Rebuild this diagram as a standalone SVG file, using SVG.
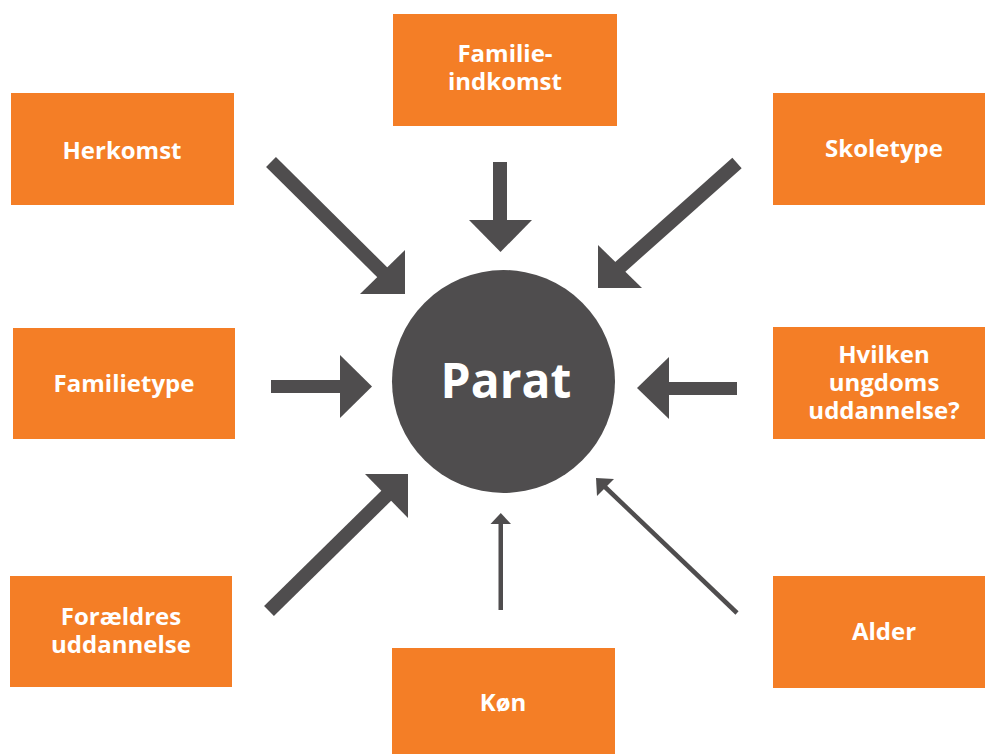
<svg xmlns="http://www.w3.org/2000/svg" width="985" height="754" viewBox="0 0 985 754">
<style>
.box{fill:#F47E26}
.lbl{fill:#ffffff;font-family:"Open Sans","Liberation Sans",sans-serif;font-weight:bold;font-size:24px;text-anchor:middle}
.arr{fill:#4F4D4E}
.shaft{stroke:#4F4D4E;fill:none}
</style>
<rect width="985" height="754" fill="#ffffff"/>
<g id="center">
<circle cx="503.5" cy="381.5" r="111.5" fill="#4F4D4E"/>
<text x="506" y="398" font-family="'Open Sans','Liberation Sans',sans-serif" font-weight="bold" font-size="48" fill="#ffffff" text-anchor="middle">Parat</text>
</g>
<g id="familieindkomst">
<rect class="box" x="393" y="14" width="224" height="112"/>
<text class="lbl" x="505" y="62">Familie-<tspan x="505" dy="28">indkomst</tspan></text>
</g>
<g id="herkomst">
<rect class="box" x="11" y="93" width="223" height="112"/>
<text class="lbl" x="122" y="159">Herkomst</text>
</g>
<g id="skoletype">
<rect class="box" x="773" y="93" width="212" height="112"/>
<text class="lbl" x="884" y="157">Skoletype</text>
</g>
<g id="familietype">
<rect class="box" x="13" y="328" width="222" height="111"/>
<text class="lbl" x="124" y="392">Familietype</text>
</g>
<g id="hvilken">
<rect class="box" x="773" y="327" width="212" height="112"/>
<text class="lbl" x="884" y="363">Hvilken<tspan x="884" dy="28">ungdoms</tspan><tspan x="884" dy="28">uddannelse?</tspan></text>
</g>
<g id="foraeldres">
<rect class="box" x="10" y="576" width="222" height="111"/>
<text class="lbl" x="121" y="625">Forældres<tspan x="121" dy="28">uddannelse</tspan></text>
</g>
<g id="koen">
<rect class="box" x="392" y="648" width="223" height="106"/>
<text class="lbl" x="503" y="711">Køn</text>
</g>
<g id="alder">
<rect class="box" x="773" y="576" width="212" height="112"/>
<text class="lbl" x="884" y="640">Alder</text>
</g>
<g id="connectors">
<line class="shaft" x1="271" y1="162" x2="384" y2="274" stroke-width="14"/>
<polygon class="arr" points="405,250 405,294 360,294"/>
<line class="shaft" x1="737" y1="163" x2="619" y2="268" stroke-width="14"/>
<polygon class="arr" points="598,245 598,288 642,288"/>
<rect class="arr" x="271" y="380" width="70" height="13"/>
<polygon class="arr" points="340,355 372,386.5 340,418"/>
<rect class="arr" x="668" y="382" width="69" height="13"/>
<polygon class="arr" points="637,388 669,357 669,419"/>
<line class="shaft" x1="269" y1="611" x2="388" y2="494" stroke-width="14"/>
<polygon class="arr" points="408,474 365,474 408,518"/>
<rect class="arr" x="493" y="162" width="14" height="59"/>
<polygon class="arr" points="469,220 532,220 500.5,252"/>
<rect class="arr" x="498.5" y="523" width="4.5" height="87"/>
<polygon class="arr" points="490.5,524 500.8,513 511,524"/>
<line class="shaft" x1="737" y1="613" x2="604" y2="486" stroke-width="4.5"/>
<polygon class="arr" points="596,478 614,479 597,496"/>
</g>
</svg>
